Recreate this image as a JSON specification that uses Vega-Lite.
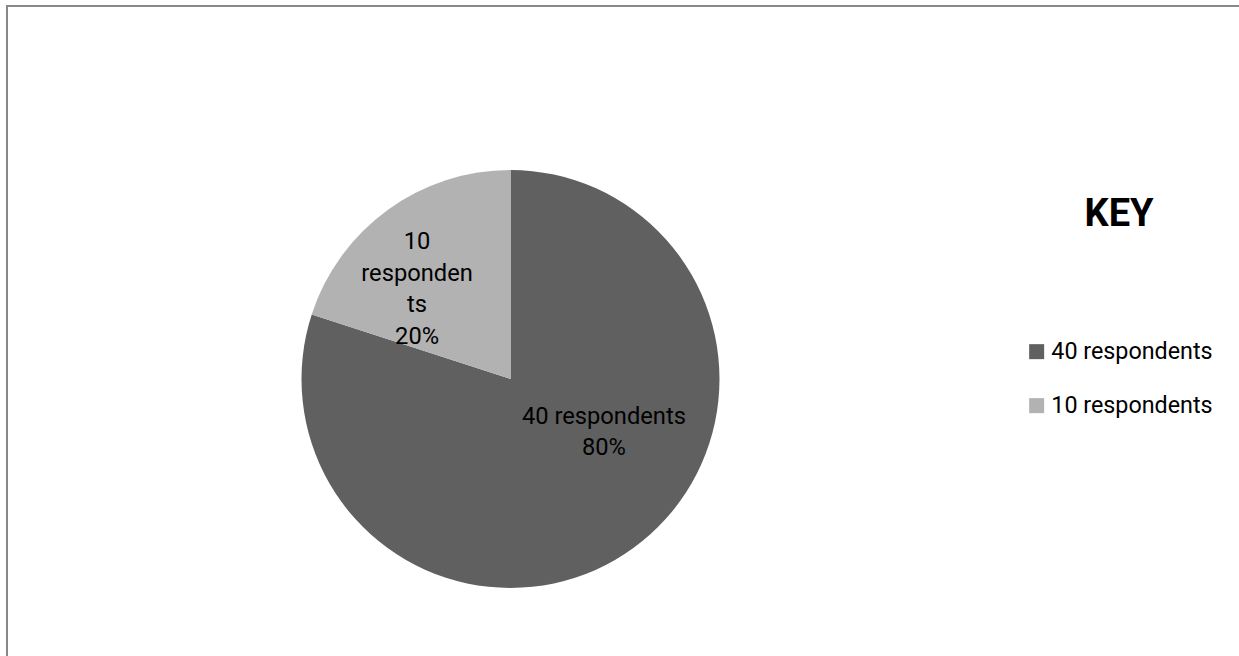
{
  "$schema": "https://vega.github.io/schema/vega-lite/v6.json",
  "autosize": "none",
  "padding": {"left": 7, "top": 6, "right": -3, "bottom": -3},
  "width": 1235,
  "height": 653,
  "background": "white",
  "config": {
    "view": {"stroke": null},
    "font": "Roboto"
  },
  "layer": [
    {
      "data": {"values": [{"frame": "chart area"}]},
      "mark": {"type": "rect", "fill": null, "stroke": "#898989", "strokeWidth": 2},
      "encoding": {}
    },
    {
      "data": {
        "values": [
          {"group": "40 respondents", "count": 40, "label": "40 respondents\n80%"},
          {"group": "10 respondents", "count": 10, "label": "10\nresponden\nts\n20%"}
        ]
      },
      "layer": [
        {
          "mark": {"type": "arc", "outerRadius": 209, "xOffset": -114, "yOffset": 46.5},
          "encoding": {
            "theta": {"field": "count", "type": "quantitative", "stack": true},
            "order": {"field": "count", "sort": "descending"},
            "color": {
              "field": "group",
              "type": "nominal",
              "title": "KEY",
              "scale": {"domain": ["40 respondents", "10 respondents"], "range": ["#606060", "#b2b2b2"]},
              "legend": {
                "orient": "none",
                "legendX": 1018,
                "legendY": 190,
                "titleFontSize": 38,
                "titleFontWeight": "bold",
                "titleColor": "black",
                "titleAnchor": "middle",
                "titlePadding": 106,
                "labelFontSize": 23.3,
                "labelLimit": 400,
                "labelColor": "black",
                "symbolType": "square",
                "symbolSize": 225,
                "symbolStrokeWidth": 0,
                "rowPadding": 30,
                "labelOffset": 3
              }
            }
          }
        },
        {
          "mark": {
            "type": "text",
            "radius": 128,
            "thetaOffset": -0.19,
            "xOffset": -114,
            "yOffset": -3,
            "fontSize": 23.7,
            "lineBreak": "\n",
            "lineHeight": 31.5,
            "fill": "black",
            "align": "center",
            "baseline": "middle"
          },
          "encoding": {
            "theta": {"field": "count", "type": "quantitative", "stack": true},
            "order": {"field": "count", "sort": "descending"},
            "text": {"field": "label", "type": "nominal"}
          }
        }
      ]
    }
  ]
}
